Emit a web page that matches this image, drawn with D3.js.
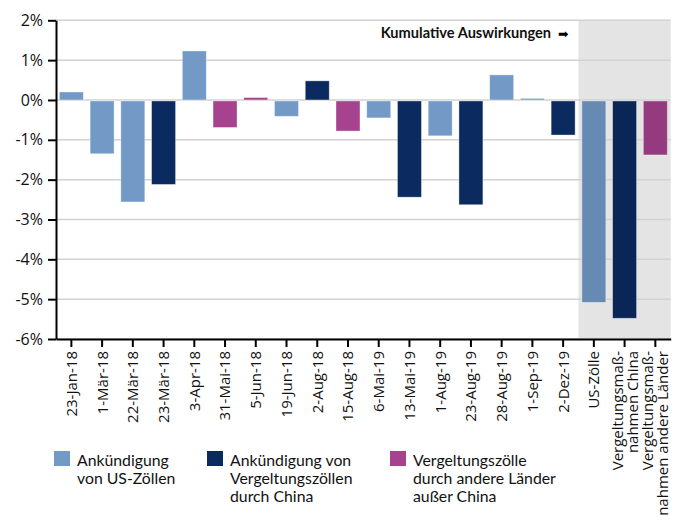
<!DOCTYPE html>
<html><head><meta charset="utf-8">
<script src="https://cdn.jsdelivr.net/npm/d3@7"></script>
<style>body{margin:0;background:#fff}svg{display:block}</style>
</head><body>
<svg id="c" width="699" height="522"></svg>
<script>
// ---- data ----
const categories = [
  ["23-Jan-18"],["1-Mär-18"],["22-Mär-18"],["23-Mär-18"],["3-Apr-18"],["31-Mai-18"],
  ["5-Jun-18"],["19-Jun-18"],["2-Aug-18"],["15-Aug-18"],["6-Mai-19"],["13-Mai-19"],
  ["1-Aug-19"],["23-Aug-19"],["28-Aug-19"],["1-Sep-19"],["2-Dez-19"],
  ["US-Zölle"],["Vergeltungsmaß-","nahmen China"],["Vergeltungsmaß-","nahmen andere Länder"]
];
const values = [0.2,-1.35,-2.56,-2.12,1.23,-0.69,0.06,-0.41,0.48,-0.78,-0.45,-2.44,-0.9,-2.63,0.63,0.04,-0.88,-5.08,-5.48,-1.38];
const seriesIndex = [0,0,0,1,0,2,2,0,1,2,0,1,0,1,0,0,1,0,1,2];
const cumulative = [false,false,false,false,false,false,false,false,false,false,false,false,false,false,false,false,false,true,true,true];
const seriesNames = [["Ankündigung","von US-Zöllen"],["Ankündigung von","Vergeltungszöllen","durch China"],["Vergeltungszölle","durch andere Länder","außer China"]];
const seriesColors = ["#739ac7","#0b2b60","#a6428e"];
const yTicks = [2,1,0,-1,-2,-3,-4,-5,-6];
const yTickLabels = ["2%","1%","0%","-1%","-2%","-3%","-4%","-5%","-6%"];
const annotation = "Kumulative Auswirkungen";

// ---- chart ----
(function(){
const svg = d3.select("#c");
const pL = 56, pR = 670.7, pT = 20.3, pB = 339;
const x = d3.scaleBand().domain(d3.range(categories.length)).range([pL, pR]).paddingInner(0.22).paddingOuter(0.11);
const y = d3.scaleLinear().domain([-6, 2]).range([pB, pT]);
const grayK = 0.894;
const shade = c => { const r = d3.rgb(c); return d3.rgb(r.r*grayK, r.g*grayK, r.b*grayK).formatHex(); };

// gray region for cumulative
const cumIdx = d3.range(categories.length).filter(i => cumulative[i]);
const step = x.step();
const gx0 = x(cumIdx[0]) - step*0.11;
svg.append("rect").attr("x", gx0).attr("y", y(2)).attr("width", pR - gx0).attr("height", y(-6) - y(2)).attr("fill", "#e4e4e4");

// gridlines
svg.append("g").selectAll("line").data(yTicks).join("line")
  .attr("x1", pL).attr("x2", pR).attr("y1", d => y(d)).attr("y2", d => y(d))
  .attr("stroke", "#d2d2d2").attr("stroke-width", 1.5);

// bars
svg.append("g").selectAll("rect").data(values).join("rect")
  .attr("x", (d,i) => x(i)).attr("width", x.bandwidth())
  .attr("y", d => y(Math.max(0,d)) + (d < 0 ? 1 : 0))
  .attr("height", d => Math.abs(y(d) - y(0)) - (d < 0 ? 1 : 0))
  .attr("fill", (d,i) => cumulative[i] ? shade(seriesColors[seriesIndex[i]]) : seriesColors[seriesIndex[i]])
  .attr("stroke", "#fff").attr("stroke-opacity", 0.45).attr("stroke-width", 0.8);

// y axis
const yAxis = svg.append("g").attr("transform", `translate(${pL},0)`)
  .call(d3.axisLeft(y).tickValues(yTicks).tickFormat((d,i) => yTickLabels[i]).tickSize(8).tickPadding(5).tickSizeOuter(0));
yAxis.select(".domain").attr("stroke", "#000").attr("stroke-width", 2);
yAxis.selectAll(".tick line").attr("stroke", "#000").attr("stroke-width", 2);
yAxis.selectAll("text").attr("font-family", "'Open Sans', sans-serif").attr("font-size", 16).attr("fill", "#111");

// x axis
const xAxis = svg.append("g").attr("transform", `translate(0,${pB})`)
  .call(d3.axisBottom(x).tickSize(8).tickSizeOuter(0).tickFormat(""));
xAxis.select(".domain").attr("stroke", "#000").attr("stroke-width", 2);
xAxis.selectAll(".tick line").attr("stroke", "#000").attr("stroke-width", 2);
xAxis.selectAll(".tick").each(function(d){
  const lines = categories[d];
  const t = d3.select(this).append("text")
    .attr("transform", "rotate(-90)")
    .attr("text-anchor", "end").attr("fill", "#111")
    .attr("font-family", "'Open Sans', sans-serif").attr("font-size", 15);
  const lh = 15;
  lines.forEach((s, k) => {
    t.append("tspan").attr("x", -12).attr("y", (k - (lines.length-1)/2) * lh).attr("dy", "0.36em").text(s);
  });
});

// annotation
svg.append("text").attr("x", 551).attr("y", 38).attr("text-anchor", "end")
  .attr("font-family", "Lato, sans-serif").attr("font-weight", "bold").attr("font-size", 14.6).attr("fill", "#111")
  .text(annotation);
svg.append("text").attr("x", 558).attr("y", 37.5)
  .attr("font-family", "'DejaVu Sans', sans-serif").attr("font-size", 12.5).attr("fill", "#000").text("➡");

// legend
const legX = [54, 207, 390];
const lg = svg.append("g").selectAll("g").data(seriesNames).join("g")
  .attr("transform", (d,i) => `translate(${legX[i]},451)`);
lg.append("rect").attr("width", 16).attr("height", 15).attr("fill", (d,i) => seriesColors[i]);
lg.append("text").attr("font-family", "Lato, sans-serif").attr("font-size", 15.8).attr("fill", "#111")
  .selectAll("tspan").data(d => d).join("tspan")
  .attr("x", 23).attr("y", (d,k) => 15 + k*17.8).text(d => d);
})();
</script>
</body></html>
